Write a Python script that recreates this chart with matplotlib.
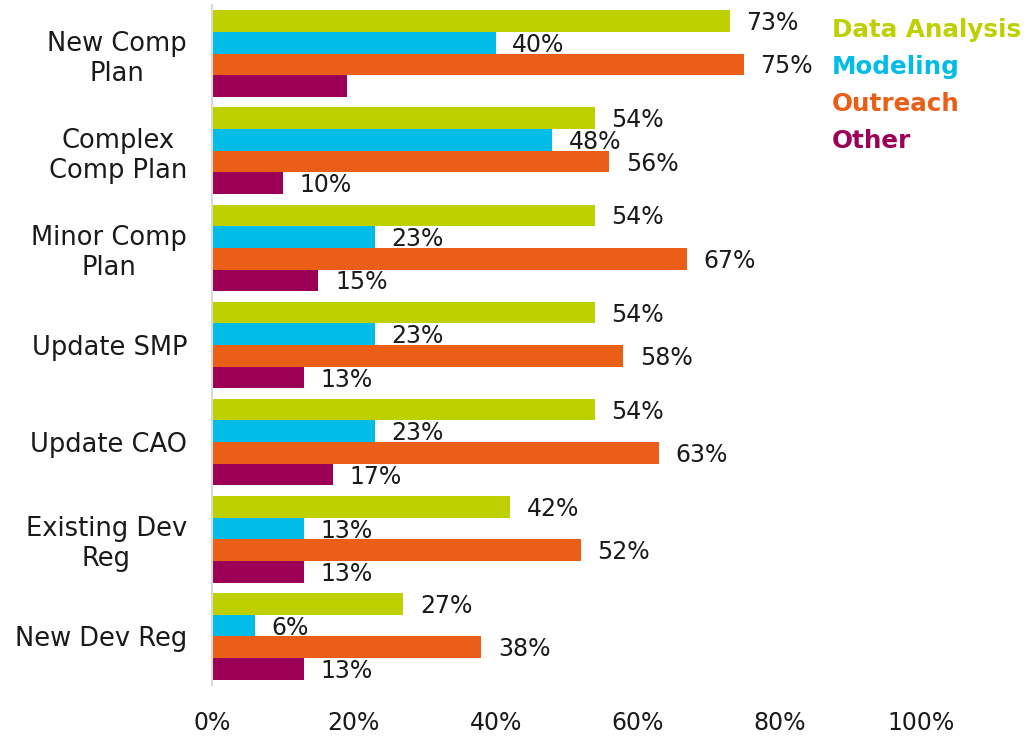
import matplotlib
matplotlib.use("Agg")
import matplotlib.pyplot as plt
import numpy as np

# данные с картинки
categories = ["New Comp\nPlan", "Complex\nComp Plan", "Minor Comp\nPlan", "Update SMP",
              "Update CAO", "Existing Dev\nReg", "New Dev Reg"]
series = ["Data Analysis", "Modeling", "Outreach", "Other"]
data_analysis = [73, 54, 54, 54, 54, 42, 27]
modeling = [40, 48, 23, 23, 23, 13, 6]
outreach = [75, 56, 67, 58, 63, 52, 38]
other = [19, 10, 15, 13, 17, 13, 13]
hidden_labels = [(0, 3)]  # у "Other" в New Comp Plan подписи нет
x_ticks = [0, 20, 40, 60, 80, 100]

colors = ["#BED000", "#00BCE6", "#EB5E17", "#9B0056"]

plt.rcParams['font.family'] = ['DejaVu Sans']

fig = plt.figure(figsize=(10.28, 7.38), dpi=100)
ax = fig.add_axes([212 / 1028, 1 - 685 / 738, 709 / 1028, 680 / 738])

values = [data_analysis, modeling, outreach, other]
y = np.arange(len(categories))
h = 0.223

for j, (name, vals) in enumerate(zip(series, values)):
    pos = y + (j - 1.5) * h
    ax.barh(pos, vals, height=h, color=colors[j], label=name)
    for i, v in enumerate(vals):
        if (i, j) in hidden_labels:
            continue
        ax.annotate(f"{v}%", (v, pos[i]), xytext=(12, -1.5), textcoords="offset points",
                    ha="left", va="center", fontsize=17, color="#1a1a1a")

ax.set_xlim(0, 100)
ax.set_ylim(len(categories) - 0.5, -0.5)
ax.set_yticks(y)
ax.set_yticklabels(categories, fontsize=18.5, color="#1a1a1a")
for lbl in ax.get_yticklabels():
    lbl.set_multialignment("center")
ax.set_xticks(x_ticks)
ax.set_xticklabels([f"{t}%" for t in x_ticks], fontsize=17, color="#1a1a1a")
ax.tick_params(axis="y", length=0, pad=18)
ax.tick_params(axis="x", length=0, pad=19)

for s in ["top", "right", "bottom"]:
    ax.spines[s].set_visible(False)
ax.spines["left"].set_color("#D9D9D9")
ax.spines["left"].set_linewidth(1.5)

leg = ax.legend(loc="upper left", bbox_to_anchor=(832 / 1028, 1 - 18 / 738),
                bbox_transform=fig.transFigure, frameon=False, handlelength=0,
                handletextpad=0, borderpad=0, borderaxespad=0, labelspacing=0.53,
                labelcolor=colors, prop={"weight": "bold", "size": 17.7})
for hnd in leg.legend_handles:
    hnd.set_visible(False)

fig.savefig("out.png", dpi=100)
